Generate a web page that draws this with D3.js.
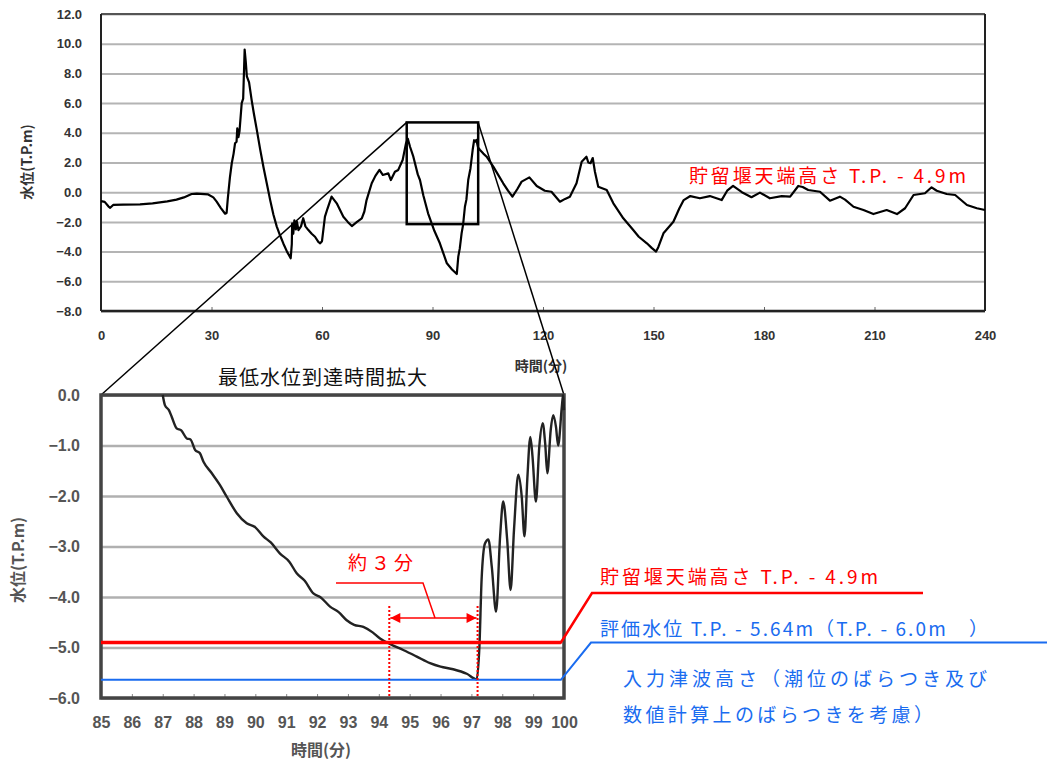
<!DOCTYPE html>
<html>
<head>
<meta charset="utf-8">
<script src="https://cdn.jsdelivr.net/npm/d3@7"></script>
<style>
  body { margin: 0; background: #fff; }
  svg { display: block; }
</style>
</head>
<body>
<svg id="chart"></svg>
<script>
// overview series (time in min, water level T.P.m)
const topTime = [0, 1, 2, 2.5, 3.3, 6, 10.6, 14, 18, 20.5, 22.5, 24.6, 26, 29.1, 30.5, 31.4, 32.5, 33.7, 34.1, 34.4, 34.6, 35, 35.5, 36, 36.4, 36.8, 37, 37.3, 37.6, 38.2, 38.6, 39, 39.3, 39.6, 40.2, 40.9, 41.5, 42.3, 43.2, 44.1, 45, 45.9, 46.8, 47.7, 48.6, 49.5, 50.5, 51.5, 51.8, 51.9, 52.2, 52.5, 52.9, 53.2, 53.6, 54.3, 54.9, 55.5, 56.3, 57.2, 58.1, 59, 59.5, 60, 60.8, 61.5, 62.6, 64, 65.8, 67, 68.1, 69.5, 70.8, 71.5, 72.1, 73.5, 74.5, 75.6, 76.5, 78, 78.7, 79.8, 80.7, 81.9, 82.8, 83.3, 83.9, 84.8, 86, 86.6, 87.5, 88.8, 90.5, 92, 93.9, 95.3, 96.6, 97, 97.4, 97.9, 98.3, 98.8, 99.2, 99.7, 100.3, 100.9, 101.3, 101.5, 101.9, 102.4, 102.9, 103.8, 104.7, 106.5, 108, 109.2, 110.5, 111.7, 113, 114.2, 116.3, 118.3, 120.5, 122.3, 124.6, 126, 127.3, 129.1, 130.5, 131.8, 132.3, 132.9, 133.5, 134.1, 135, 137.3, 139.1, 141.8, 144.5, 146, 148.2, 149.5, 150.7, 151.3, 152.7, 155.4, 157, 158.2, 160, 162.6, 165.3, 168.5, 170, 171.6, 174, 176.6, 178.9, 181.6, 184.8, 187.1, 189.3, 190.5, 192, 195.2, 197.9, 200.6, 202, 204.3, 207, 209.7, 213.3, 216.1, 218.3, 220.6, 223.7, 225.5, 226.9, 229.6, 231.9, 235.1, 237.8, 240];
const topLevel = [-0.6, -0.65, -0.95, -1.05, -0.86, -0.84, -0.82, -0.75, -0.62, -0.5, -0.35, -0.12, -0.1, -0.15, -0.35, -0.64, -1.05, -1.45, -1.4, -0.5, 0, 1, 1.95, 2.6, 3.3, 3.4, 4.3, 3.7, 4.1, 6, 6.3, 9.6, 8.8, 7.8, 7.4, 6.2, 5.3, 4.2, 2.9, 1.7, 0.6, -0.5, -1.5, -2.3, -2.9, -3.45, -4, -4.45, -3.5, -2.1, -2.8, -1.9, -2.5, -2, -2.55, -2.3, -1.75, -2.3, -2.55, -2.8, -3, -3.35, -3.44, -3.3, -1.65, -1.1, -0.3, -0.75, -1.65, -2, -2.28, -2, -1.76, -1.3, -0.53, 0.6, 1.1, 1.5, 1.16, 1.27, 0.82, 1.38, 1.5, 2.17, 3.29, 3.6, 3.06, 2.39, 1.2, 0.82, -0.2, -1.42, -2.6, -3.44, -4.79, -5.2, -5.51, -4.34, -3.8, -2.77, -2.2, -0.98, -0.5, 0.82, 1.6, 2.84, 3.5, 3.4, 3.52, 3, 2.84, 2.6, 2.39, 1.72, 1.1, 0.6, 0.1, -0.3, 0.2, 0.71, 1, 0.42, 0.1, 0.03, -0.64, -0.45, -0.3, 0.6, 2.05, 2.39, 2, 1.95, 2.3, 1.38, 0.37, 0.15, -0.75, -1.76, -2.55, -3, -3.44, -3.75, -4, -3.7, -2.77, -1.99, -1.1, -0.53, -0.26, -0.41, -0.26, -0.53, 0.1, 0.42, 0, -0.34, -0.03, -0.41, -0.26, -0.3, 0.42, 0.35, 0.15, 0.03, -0.57, -0.3, -0.5, -0.98, -1.2, -1.47, -1.2, -1.47, -1.08, -0.19, -0.07, 0.33, 0.1, -0.12, -0.19, -0.86, -1.08, -1.2];

// enlarged series around the minimum
const insetTime = [87, 87.07, 87.2, 87.29, 87.45, 87.6, 87.78, 87.9, 88.05, 88.2, 88.32, 88.59, 88.85, 89.07, 89.4, 89.72, 90.0, 90.26, 90.5, 90.8, 91.1, 91.34, 91.6, 91.88, 92.1, 92.42, 92.7, 92.96, 93.2, 93.5, 93.8, 94.04, 94.36, 94.79, 95.23, 95.66, 96.0, 96.41, 96.85, 97.17, 97.26, 97.33, 97.44, 97.55, 97.66, 97.8, 97.93, 98.03, 98.16, 98.27, 98.38, 98.52, 98.63, 98.72, 98.81, 98.91, 98.98, 99.09, 99.2, 99.31, 99.39, 99.46, 99.57, 99.65, 99.74, 99.81, 99.93, 99.97, 100];
const insetLevel = [0, -0.2, -0.3, -0.43, -0.66, -0.7, -0.86, -0.88, -1.09, -1.15, -1.32, -1.55, -1.78, -2.01, -2.34, -2.54, -2.62, -2.8, -2.92, -3.14, -3.3, -3.53, -3.68, -3.93, -4.0, -4.19, -4.3, -4.46, -4.55, -4.59, -4.7, -4.82, -4.93, -5.05, -5.18, -5.31, -5.38, -5.43, -5.52, -5.63, -4.98, -3.66, -2.94, -2.86, -3.4, -4.29, -2.8, -2.11, -2.87, -3.86, -2.67, -1.58, -2.01, -2.8, -1.68, -0.83, -1.22, -2.11, -1.02, -0.56, -0.96, -1.55, -0.69, -0.4, -0.63, -1.0, -0.23, 0.0, -0.3];

const topXTicks = [0, 30, 60, 90, 120, 150, 180, 210, 240];
const topYTicks = [-8, -6, -4, -2, 0, 2, 4, 6, 8, 10, 12];
const insetXTicks = [85, 86, 87, 88, 89, 90, 91, 92, 93, 94, 95, 96, 97, 98, 99, 100];
const insetYTicks = [0, -1, -2, -3, -4, -5, -6];

const zoomBox = { t0: 83, t1: 102.4, v0: -2.15, v1: 4.7 };
const weirLevel = -4.9;
const evalLevel = -5.64;
const markTimes = [94.34, 97.2];

const width = 1047;
const height = 765;
const red = "#ff0000";
const blue = "#1a6cf0";
const fmt = d3.format(".1f");

const svg = d3.select("#chart").attr("width", width).attr("height", height);

// ---------- overview chart ----------
const tp = { left: 101, right: 985, top: 14, bottom: 311 };
const x1 = d3.scaleLinear().domain([0, 240]).range([tp.left, tp.right]);
const y1 = d3.scaleLinear().domain([-8, 12]).range([tp.bottom, tp.top]);

const gTop = svg.append("g");

gTop.append("g")
  .attr("transform", `translate(${tp.left},0)`)
  .call(d3.axisLeft(y1).tickValues(topYTicks).tickSize(-(tp.right - tp.left)).tickPadding(19).tickFormat(fmt))
  .call((g) => g.select(".domain").remove())
  .call((g) => g.selectAll("line").attr("stroke", "#b4b4b4").attr("stroke-width", 2))
  .call((g) => g.selectAll("text")
    .attr("font-family", "Liberation Sans, Arial, sans-serif")
    .attr("font-size", 13).attr("font-weight", "bold").attr("fill", "#333"));

gTop.append("g")
  .attr("transform", `translate(0,${tp.bottom})`)
  .call(d3.axisBottom(x1).tickValues(topXTicks).tickSize(-4).tickPadding(20).tickFormat(d3.format("d")))
  .call((g) => g.select(".domain").remove())
  .call((g) => g.selectAll("line").attr("stroke", "#666"))
  .call((g) => g.selectAll("text")
    .attr("font-family", "Liberation Sans, Arial, sans-serif")
    .attr("font-size", 13).attr("font-weight", "bold").attr("fill", "#333"));

// frame
gTop.append("line").attr("x1", tp.left).attr("x2", tp.right).attr("y1", tp.top).attr("y2", tp.top)
  .attr("stroke", "#555").attr("stroke-width", 2);
gTop.append("line").attr("x1", tp.left).attr("x2", tp.right).attr("y1", tp.bottom).attr("y2", tp.bottom)
  .attr("stroke", "#222").attr("stroke-width", 2.5);
gTop.append("line").attr("x1", tp.left).attr("x2", tp.left).attr("y1", tp.top).attr("y2", tp.bottom)
  .attr("stroke", "#222").attr("stroke-width", 2);
gTop.append("line").attr("x1", tp.right).attr("x2", tp.right).attr("y1", tp.top).attr("y2", tp.bottom)
  .attr("stroke", "#222").attr("stroke-width", 2);

const topLine = d3.line().x((d, i) => x1(topTime[i])).y((d) => y1(d));
gTop.append("path")
  .datum(topLevel)
  .attr("d", topLine)
  .attr("fill", "none")
  .attr("stroke", "#000")
  .attr("stroke-width", 2.2)
  .attr("stroke-linejoin", "round");

gTop.append("text")
  .attr("x", 541).attr("y", 371).attr("text-anchor", "middle")
  .attr("font-family", "Noto Sans CJK JP").attr("font-size", 14).attr("font-weight", "bold").attr("fill", "#333")
  .text("時間(分)");
gTop.append("text")
  .attr("transform", "translate(32,162) rotate(-90)").attr("text-anchor", "middle")
  .attr("font-family", "Noto Sans CJK JP").attr("font-size", 14).attr("font-weight", "bold").attr("fill", "#333")
  .text("水位(T.P.m)");

gTop.append("text")
  .attr("x", 689).attr("y", 183)
  .attr("textLength", 277).attr("lengthAdjust", "spacing")
  .attr("font-family", "Noto Sans CJK JP").attr("font-size", 19).attr("fill", red)
  .text("貯留堰天端高さ T.P. - 4.9m");

// ---------- inset chart ----------
const ip = { left: 101, right: 564, top: 395, bottom: 698 };
const x2 = d3.scaleLinear().domain([85, 100]).range([ip.left, ip.right]);
const y2 = d3.scaleLinear().domain([-6, 0]).range([ip.bottom, ip.top]);

// zoom box and leader lines
svg.append("rect")
  .attr("x", x1(zoomBox.t0)).attr("y", y1(zoomBox.v1))
  .attr("width", x1(zoomBox.t1) - x1(zoomBox.t0))
  .attr("height", y1(zoomBox.v0) - y1(zoomBox.v1))
  .attr("fill", "none").attr("stroke", "#000").attr("stroke-width", 2.5);
svg.append("line")
  .attr("x1", x1(zoomBox.t0)).attr("y1", y1(zoomBox.v1)).attr("x2", ip.left).attr("y2", ip.top)
  .attr("stroke", "#000").attr("stroke-width", 1.5);
svg.append("line")
  .attr("x1", x1(zoomBox.t1)).attr("y1", y1(zoomBox.v1)).attr("x2", ip.right).attr("y2", ip.top)
  .attr("stroke", "#000").attr("stroke-width", 1.5);

const gIn = svg.append("g");

gIn.append("g")
  .attr("transform", `translate(${ip.left},0)`)
  .call(d3.axisLeft(y2).tickValues(insetYTicks).tickSize(-(ip.right - ip.left)).tickPadding(21).tickFormat(fmt))
  .call((g) => g.select(".domain").remove())
  .call((g) => g.selectAll("line").attr("stroke", "#b0b0b0").attr("stroke-width", 2.5))
  .call((g) => g.selectAll("text")
    .attr("font-family", "Liberation Sans, Arial, sans-serif")
    .attr("font-size", 16).attr("font-weight", "bold").attr("fill", "#555"));

gIn.append("g")
  .attr("transform", `translate(0,${ip.bottom})`)
  .call(d3.axisBottom(x2).tickValues(insetXTicks).tickSize(-4).tickPadding(19).tickFormat(d3.format("d")))
  .call((g) => g.select(".domain").remove())
  .call((g) => g.selectAll("line").attr("stroke", "#888"))
  .call((g) => g.selectAll("text")
    .attr("font-family", "Liberation Sans, Arial, sans-serif")
    .attr("font-size", 16).attr("font-weight", "bold").attr("fill", "#555"));

gIn.append("rect")
  .attr("x", ip.left).attr("y", ip.top)
  .attr("width", ip.right - ip.left).attr("height", ip.bottom - ip.top)
  .attr("fill", "none").attr("stroke", "#444").attr("stroke-width", 3.5);

svg.append("clipPath").attr("id", "insetClip")
  .append("rect")
  .attr("x", ip.left).attr("y", ip.top - 2)
  .attr("width", ip.right - ip.left + 2).attr("height", ip.bottom - ip.top + 2);

const insetLine = d3.line().x((d, i) => x2(insetTime[i])).y((d) => y2(d)).curve(d3.curveMonotoneX);
gIn.append("path")
  .datum(insetLevel)
  .attr("clip-path", "url(#insetClip)")
  .attr("d", insetLine)
  .attr("fill", "none")
  .attr("stroke", "#222")
  .attr("stroke-width", 2.4)
  .attr("stroke-linejoin", "round");

// reference levels with leaders to labels
const weirY = y2(weirLevel);
const evalY = y2(evalLevel);
const lineEnd = x2(99.9);
svg.append("polyline")
  .attr("points", [[ip.left, weirY], [lineEnd, weirY], [592, 593], [923, 593]].join(" "))
  .attr("fill", "none").attr("stroke", red).attr("stroke-width", 2.5);
svg.append("line")
  .attr("x1", ip.left).attr("x2", lineEnd).attr("y1", weirY).attr("y2", weirY)
  .attr("stroke", red).attr("stroke-width", 3.5);
svg.append("polyline")
  .attr("points", [[ip.left, evalY], [lineEnd, evalY], [591, 642.5], [1047, 642.5]].join(" "))
  .attr("fill", "none").attr("stroke", blue).attr("stroke-width", 2);

// "about 3 minutes" markers
svg.selectAll(".mark")
  .data(markTimes)
  .enter()
  .append("line")
  .attr("x1", (d) => x2(d)).attr("x2", (d) => x2(d))
  .attr("y1", 606).attr("y2", ip.bottom)
  .attr("stroke", red).attr("stroke-width", 2).attr("stroke-dasharray", "2,2");

const defs = svg.append("defs");
defs.append("marker").attr("id", "arrowEnd")
  .attr("viewBox", "0 0 10 10").attr("refX", 10).attr("refY", 5)
  .attr("markerWidth", 12).attr("markerHeight", 10).attr("markerUnits", "userSpaceOnUse")
  .attr("orient", "auto")
  .append("path").attr("d", "M0,0L10,5L0,10Z").attr("fill", red);
defs.append("marker").attr("id", "arrowStart")
  .attr("viewBox", "0 0 10 10").attr("refX", 0).attr("refY", 5)
  .attr("markerWidth", 12).attr("markerHeight", 10).attr("markerUnits", "userSpaceOnUse")
  .attr("orient", "auto")
  .append("path").attr("d", "M10,0L0,5L10,10Z").attr("fill", red);

svg.append("line")
  .attr("x1", x2(markTimes[0]) + 1).attr("x2", x2(markTimes[1]) - 1)
  .attr("y1", 618).attr("y2", 618)
  .attr("stroke", red).attr("stroke-width", 1.5)
  .attr("marker-start", "url(#arrowStart)").attr("marker-end", "url(#arrowEnd)");
svg.append("polyline")
  .attr("points", "336,583 423,583 435,618")
  .attr("fill", "none").attr("stroke", red).attr("stroke-width", 1.5);

svg.append("text")
  .attr("x", 348).attr("y", 570)
  .attr("textLength", 65).attr("lengthAdjust", "spacing")
  .attr("font-family", "Noto Sans CJK JP").attr("font-size", 19).attr("fill", red)
  .text("約３分");

// titles and labels
svg.append("text")
  .attr("x", 218).attr("y", 385)
  .attr("textLength", 209).attr("lengthAdjust", "spacing")
  .attr("font-family", "Noto Sans CJK JP").attr("font-size", 20).attr("fill", "#111")
  .text("最低水位到達時間拡大");
svg.append("text")
  .attr("x", 321).attr("y", 756).attr("text-anchor", "middle")
  .attr("font-family", "Noto Sans CJK JP").attr("font-size", 16).attr("font-weight", "bold").attr("fill", "#555")
  .text("時間(分)");
svg.append("text")
  .attr("transform", "translate(24,560) rotate(-90)").attr("text-anchor", "middle")
  .attr("font-family", "Noto Sans CJK JP").attr("font-size", 16).attr("font-weight", "bold").attr("fill", "#555")
  .text("水位(T.P.m)");

svg.append("text")
  .attr("x", 600).attr("y", 584)
  .attr("textLength", 278).attr("lengthAdjust", "spacing")
  .attr("font-family", "Noto Sans CJK JP").attr("font-size", 19).attr("fill", red)
  .text("貯留堰天端高さ T.P. - 4.9m");
svg.append("text")
  .attr("x", 600).attr("y", 636)
  .attr("textLength", 388).attr("lengthAdjust", "spacing")
  .attr("font-family", "Noto Sans CJK JP").attr("font-size", 19).attr("fill", blue)
  .text("評価水位 T.P. - 5.64m（T.P. - 6.0m　）");
svg.append("text")
  .attr("x", 623).attr("y", 686)
  .attr("textLength", 364).attr("lengthAdjust", "spacing")
  .attr("font-family", "Noto Sans CJK JP").attr("font-size", 19).attr("fill", blue)
  .text("入力津波高さ（潮位のばらつき及び");
svg.append("text")
  .attr("x", 623).attr("y", 722)
  .attr("textLength", 310).attr("lengthAdjust", "spacing")
  .attr("font-family", "Noto Sans CJK JP").attr("font-size", 19).attr("fill", blue)
  .text("数値計算上のばらつきを考慮）");
</script>
</body>
</html>
